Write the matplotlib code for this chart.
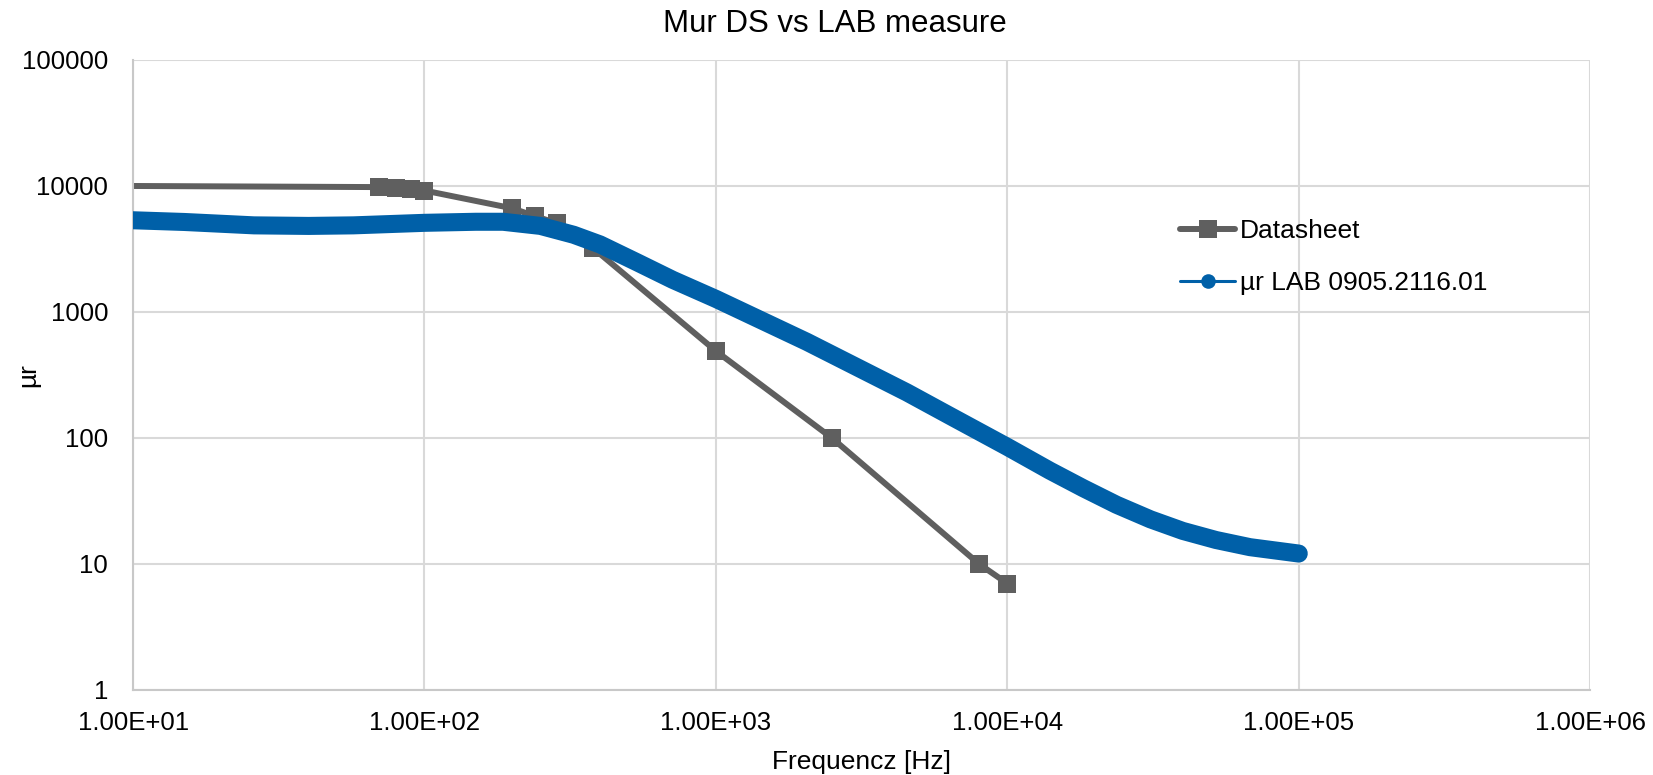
import matplotlib
matplotlib.use("Agg")
import matplotlib.pyplot as plt
from matplotlib.lines import Line2D
from matplotlib.ticker import FixedLocator, FuncFormatter, NullLocator

# datasheet curve (frequency in Hz, relative permeability)
ds_freq = [10, 70, 80, 90, 100, 200, 240, 285, 380, 1000, 2500, 8000, 10000]
ds_mur = [10000, 9800, 9600, 9400, 9200, 6650, 5750, 5060, 3200, 490, 100, 10, 7]

# lab measurement of sample 0905.2116.01
lab_freq = [10, 15, 26, 40, 57, 100, 150, 186, 250, 325, 400, 536, 711, 1000,
            2050, 4520, 6350, 10000, 14000, 18200, 23700, 31000, 40000, 52000,
            68000, 100000]
lab_mur = [5345, 5180, 4870, 4820, 4870, 5100, 5200, 5200, 4820, 4100, 3440, 2480,
           1800, 1270, 580, 230, 150, 85, 55, 40, 29.5, 22.6, 18.3, 15.5,
           13.6, 12.1]

x_ticks = [1e1, 1e2, 1e3, 1e4, 1e5, 1e6]
y_ticks = [1, 10, 100, 1000, 10000, 100000]

grey = "#5f5f5f"
blue = "#0060a8"
grid_c = "#d9d9d9"

plt.rcParams["font.family"] = ["Liberation Sans", "DejaVu Sans"]

fig = plt.figure(figsize=(16.53, 7.75), dpi=100)
ax = fig.add_axes([0.0805, 0.1097, 0.8815, 0.8129])

ax.set_xscale("log")
ax.set_yscale("log")
ax.set_xlim(1e1, 1e6)
ax.set_ylim(1, 1e5)

ax.plot(lab_freq, lab_mur, color=blue, lw=13, solid_capstyle="round",
        solid_joinstyle="round", zorder=3)
# the 10 Hz point sits on the axis edge and carries no marker
ax.plot(ds_freq, ds_mur, color=grey, lw=4.3, marker="s", markersize=13.5,
        markeredgewidth=0, markevery=list(range(1, len(ds_freq))), zorder=2)

ax.xaxis.set_major_locator(FixedLocator(x_ticks))
ax.yaxis.set_major_locator(FixedLocator(y_ticks))
ax.xaxis.set_minor_locator(NullLocator())
ax.yaxis.set_minor_locator(NullLocator())
ax.xaxis.set_major_formatter(FuncFormatter(lambda v, p: f"{v:.2E}"))
ax.yaxis.set_major_formatter(FuncFormatter(lambda v, p: f"{int(round(v))}"))
ax.tick_params(axis="x", length=0, pad=15, labelsize=18.5)
ax.tick_params(axis="y", length=0, pad=18, labelsize=18.5)

ax.grid(True, which="major", color=grid_c, lw=1.5, zorder=0)
for s in ax.spines.values():
    s.set_visible(False)
for side in ("left", "bottom"):
    ax.spines[side].set_visible(True)
    ax.spines[side].set_color("#c8c8c8")
    ax.spines[side].set_linewidth(1.5)

fig.text(0.505, 1 - 24 / 775, "Mur DS vs LAB measure", fontsize=22.5,
         ha="center", va="center")
ax.set_xlabel("Frequencz [Hz]", fontsize=19, labelpad=11)
ax.set_ylabel("µr", fontsize=19)
ax.yaxis.set_label_coords(-0.064, 0.5)

handles = [
    Line2D([], [], color=grey, lw=4.3, marker="s", markersize=13, markeredgewidth=0,
           solid_capstyle="round"),
    Line2D([], [], color=blue, lw=2.2, marker="o", markersize=10.5, markeredgewidth=0,
           solid_capstyle="round"),
]
ax.legend(handles, ["Datasheet", "µr LAB 0905.2116.01"], loc="upper left",
          bbox_to_anchor=(0.7186, 0.747), frameon=False, fontsize=19,
          borderpad=0, borderaxespad=0,
          handlelength=2.08, handletextpad=0.19, labelspacing=1.04)

fig.savefig("out.png", dpi=100)
